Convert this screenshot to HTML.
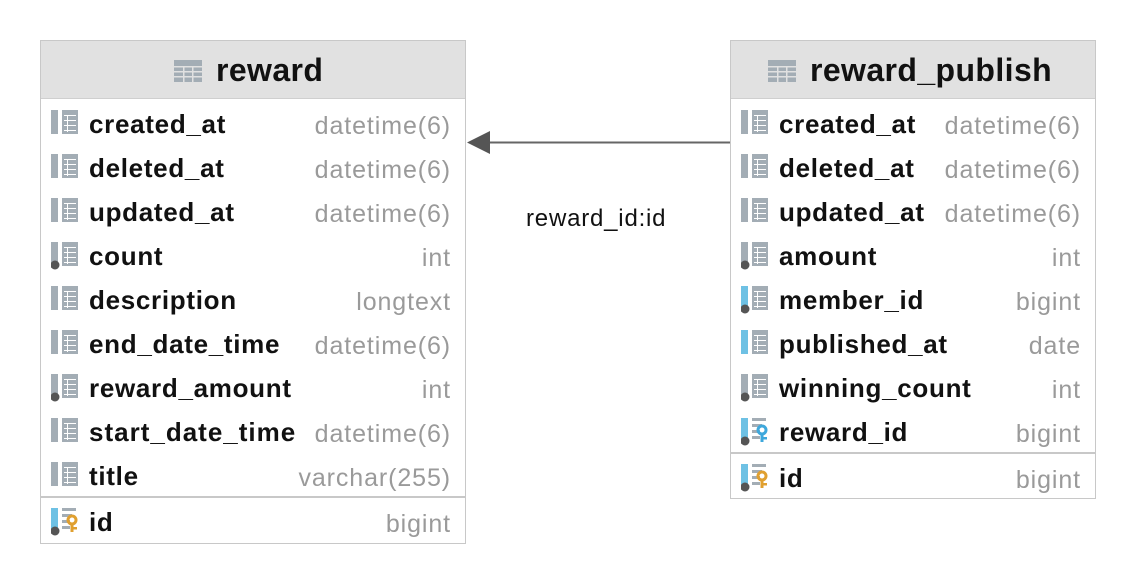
<!DOCTYPE html>
<html><head><meta charset="utf-8"><style>
body{margin:0;width:1136px;height:584px;background:#fff;position:relative;font-family:"Liberation Sans",Arial,sans-serif;overflow:hidden}
.t{position:absolute;border:1px solid #c8c8c8;background:#fff;box-sizing:border-box}
.h{position:absolute;left:0;right:0;top:0;height:57px;background:#e1e1e1;border-bottom:1px solid #cfcfcf}
.ht{position:absolute;top:11px;font-size:32px;font-weight:bold;color:#111;letter-spacing:0.4px}
.r{position:absolute;left:0;right:0;height:44px}
.n{position:absolute;left:48px;top:7px;font-size:26px;font-weight:bold;color:#111;white-space:nowrap;letter-spacing:0.7px}
.ty{position:absolute;right:14px;top:10px;font-size:25px;color:#9a9a9a;white-space:nowrap;letter-spacing:0.9px}
.ic{position:absolute;left:10px;top:8px}
.sep{position:absolute;left:0;right:0;height:2px;background:#c8c8c8}
</style></head><body>
<svg width="0" height="0" style="position:absolute">
<defs>
<g id="grid"><rect x="11" y="0" width="16" height="24" fill="#a3adb5"/><g fill="#fff"><rect x="16" y="5" width="1" height="17"/><rect x="13" y="5" width="12" height="1"/><rect x="13" y="10" width="12" height="1"/><rect x="13" y="15" width="12" height="1"/><rect x="13" y="20" width="12" height="1"/></g></g>
<g id="lines"><g fill="#a3adb5"><rect x="11" y="0" width="14" height="3"/><rect x="11" y="6" width="10" height="3"/><rect x="11" y="12" width="8" height="3"/><rect x="11" y="18" width="8" height="3"/></g></g>
</defs></svg>

<!-- reward table -->
<div class="t" style="left:40px;top:40px;width:426px;height:504px">
<div class="h"><svg style="position:absolute;left:133px;top:19px" width="28" height="22"><rect width="28" height="22" fill="#a3adb5"/><g fill="#e1e1e1"><rect x="0" y="6" width="28" height="1.5"/><rect x="0" y="11" width="28" height="1.5"/><rect x="0" y="16" width="28" height="1.5"/><rect x="9" y="6" width="1.5" height="16"/><rect x="18" y="6" width="1.5" height="16"/></g></svg><div class="ht" style="left:175px">reward</div></div>
<div class="r" style="top:61px"><svg class="ic" width="30" height="28"><rect width="7" height="24" fill="#a3adb5"/><use href="#grid"/></svg><div class="n">created_at</div><div class="ty">datetime(6)</div></div>
<div class="r" style="top:105px"><svg class="ic" width="30" height="28"><rect width="7" height="24" fill="#a3adb5"/><use href="#grid"/></svg><div class="n">deleted_at</div><div class="ty">datetime(6)</div></div>
<div class="r" style="top:149px"><svg class="ic" width="30" height="28"><rect width="7" height="24" fill="#a3adb5"/><use href="#grid"/></svg><div class="n">updated_at</div><div class="ty">datetime(6)</div></div>
<div class="r" style="top:193px"><svg class="ic" width="30" height="28"><rect width="7" height="24" fill="#a3adb5"/><use href="#grid"/><circle cx="4" cy="23" r="4.5" fill="#555"/></svg><div class="n">count</div><div class="ty">int</div></div>
<div class="r" style="top:237px"><svg class="ic" width="30" height="28"><rect width="7" height="24" fill="#a3adb5"/><use href="#grid"/></svg><div class="n">description</div><div class="ty">longtext</div></div>
<div class="r" style="top:281px"><svg class="ic" width="30" height="28"><rect width="7" height="24" fill="#a3adb5"/><use href="#grid"/></svg><div class="n">end_date_time</div><div class="ty">datetime(6)</div></div>
<div class="r" style="top:325px"><svg class="ic" width="30" height="28"><rect width="7" height="24" fill="#a3adb5"/><use href="#grid"/><circle cx="4" cy="23" r="4.5" fill="#555"/></svg><div class="n">reward_amount</div><div class="ty">int</div></div>
<div class="r" style="top:369px"><svg class="ic" width="30" height="28"><rect width="7" height="24" fill="#a3adb5"/><use href="#grid"/></svg><div class="n" style="letter-spacing:1px">start_date_time</div><div class="ty">datetime(6)</div></div>
<div class="r" style="top:413px"><svg class="ic" width="30" height="28"><rect width="7" height="24" fill="#a3adb5"/><use href="#grid"/></svg><div class="n">title</div><div class="ty">varchar(255)</div></div>
<div class="sep" style="top:455px"></div>
<div class="r" style="top:459px"><svg class="ic" width="30" height="28"><rect width="7" height="24" fill="#6ec1e4"/><use href="#lines"/><circle cx="21" cy="12" r="4" fill="none" stroke="#e0a030" stroke-width="3"/><rect x="19.5" y="15" width="3" height="9" fill="#e0a030"/><rect x="22" y="19" width="4" height="2.5" fill="#e0a030"/><circle cx="4" cy="23" r="4.5" fill="#555"/></svg><div class="n">id</div><div class="ty">bigint</div></div>
</div>

<!-- connector -->
<svg style="position:absolute;left:0;top:0" width="1136" height="584">
<line x1="488" y1="142.5" x2="731" y2="142.5" stroke="#666" stroke-width="2"/>
<polygon points="467,142.5 490,131 490,154" fill="#555"/>
</svg>
<div style="position:absolute;left:526px;top:205px;font-size:24px;color:#111;letter-spacing:0.8px">reward_id:id</div>

<!-- reward_publish table -->
<div class="t" style="left:730px;top:40px;width:366px;height:459px">
<div class="h"><svg style="position:absolute;left:37px;top:19px" width="28" height="22"><rect width="28" height="22" fill="#a3adb5"/><g fill="#e1e1e1"><rect x="0" y="6" width="28" height="1.5"/><rect x="0" y="11" width="28" height="1.5"/><rect x="0" y="16" width="28" height="1.5"/><rect x="9" y="6" width="1.5" height="16"/><rect x="18" y="6" width="1.5" height="16"/></g></svg><div class="ht" style="left:79px">reward_publish</div></div>
<div class="r" style="top:61px"><svg class="ic" width="30" height="28"><rect width="7" height="24" fill="#a3adb5"/><use href="#grid"/></svg><div class="n">created_at</div><div class="ty">datetime(6)</div></div>
<div class="r" style="top:105px"><svg class="ic" width="30" height="28"><rect width="7" height="24" fill="#a3adb5"/><use href="#grid"/></svg><div class="n">deleted_at</div><div class="ty">datetime(6)</div></div>
<div class="r" style="top:149px"><svg class="ic" width="30" height="28"><rect width="7" height="24" fill="#a3adb5"/><use href="#grid"/></svg><div class="n">updated_at</div><div class="ty">datetime(6)</div></div>
<div class="r" style="top:193px"><svg class="ic" width="30" height="28"><rect width="7" height="24" fill="#a3adb5"/><use href="#grid"/><circle cx="4" cy="23" r="4.5" fill="#555"/></svg><div class="n">amount</div><div class="ty">int</div></div>
<div class="r" style="top:237px"><svg class="ic" width="30" height="28"><rect width="7" height="24" fill="#6ec1e4"/><use href="#grid"/><circle cx="4" cy="23" r="4.5" fill="#555"/></svg><div class="n">member_id</div><div class="ty">bigint</div></div>
<div class="r" style="top:281px"><svg class="ic" width="30" height="28"><rect width="7" height="24" fill="#6ec1e4"/><use href="#grid"/></svg><div class="n">published_at</div><div class="ty">date</div></div>
<div class="r" style="top:325px"><svg class="ic" width="30" height="28"><rect width="7" height="24" fill="#a3adb5"/><use href="#grid"/><circle cx="4" cy="23" r="4.5" fill="#555"/></svg><div class="n">winning_count</div><div class="ty">int</div></div>
<div class="r" style="top:369px"><svg class="ic" width="30" height="28"><rect width="7" height="24" fill="#6ec1e4"/><use href="#lines"/><circle cx="21" cy="12" r="4" fill="none" stroke="#3ea8dc" stroke-width="3"/><rect x="19.5" y="15" width="3" height="9" fill="#3ea8dc"/><rect x="22" y="19" width="4" height="2.5" fill="#3ea8dc"/><circle cx="4" cy="23" r="4.5" fill="#555"/></svg><div class="n">reward_id</div><div class="ty">bigint</div></div>
<div class="sep" style="top:411px"></div>
<div class="r" style="top:415px"><svg class="ic" width="30" height="28"><rect width="7" height="24" fill="#6ec1e4"/><use href="#lines"/><circle cx="21" cy="12" r="4" fill="none" stroke="#e0a030" stroke-width="3"/><rect x="19.5" y="15" width="3" height="9" fill="#e0a030"/><rect x="22" y="19" width="4" height="2.5" fill="#e0a030"/><circle cx="4" cy="23" r="4.5" fill="#555"/></svg><div class="n">id</div><div class="ty">bigint</div></div>
</div>
</body></html>
